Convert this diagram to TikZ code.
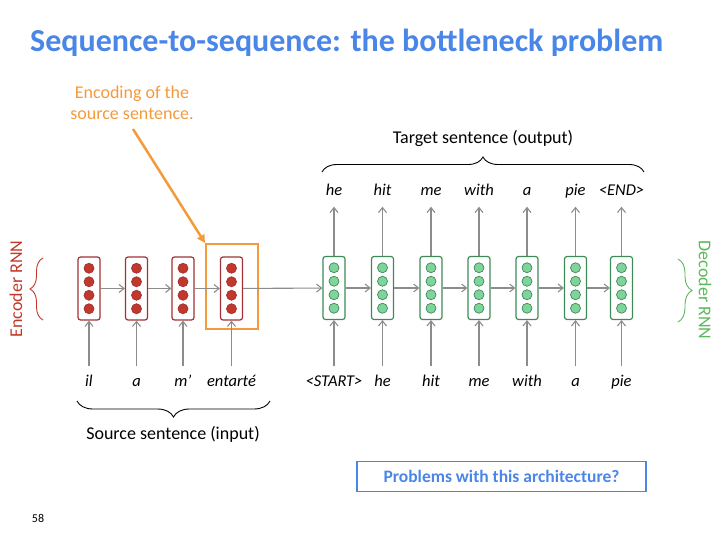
\documentclass[tikz,border=0pt]{standalone}
\usepackage{fontspec}
\setmainfont{Carlito}
\usetikzlibrary{arrows.meta,decorations.pathreplacing}
\definecolor{titleblue}{HTML}{4A86E8}
\definecolor{encred}{HTML}{A33035}
\definecolor{dotred}{HTML}{C0392B}
\definecolor{labred}{HTML}{C0392B}
\definecolor{decgreen}{HTML}{3D8B57}
\definecolor{dotgreen}{HTML}{7FD39B}
\definecolor{labgreen}{HTML}{5CB85C}
\definecolor{arrgray}{HTML}{8C8C8C}
\definecolor{orng}{HTML}{F39A3B}
\tikzset{
  enccell/.style={draw=encred, line width=1.2pt, rounded corners=2.5pt, minimum width=22pt, minimum height=63pt, inner sep=0pt},
  deccell/.style={draw=decgreen, line width=1.2pt, rounded corners=2.5pt, minimum width=22pt, minimum height=63pt, inner sep=0pt},
  reddot/.style={fill=dotred, draw=encred, line width=0.7pt},
  greendot/.style={fill=dotgreen, draw=decgreen, line width=0.7pt},
  arr/.style={draw=arrgray, line width=1.1pt, -{Straight Barb[length=5pt,width=8pt]}},
  word/.style={font=\fontsize{16.5}{18}\selectfont\itshape, inner sep=0pt, text height=10pt, text depth=3pt},
  bracelab/.style={font=\fontsize{18}{20}\selectfont, inner sep=0pt},
  brc/.style={decorate, line width=0.9pt}
}
\begin{document}
\begin{tikzpicture}[x=1pt,y=1pt]
\useasboundingbox (0,0) rectangle (720,-540);
% title
\node[font=\fontsize{32}{36}\selectfont\bfseries, text=titleblue, anchor=west, inner sep=0pt] (title) at (30,-43) {Sequence-to-sequence: the bottleneck problem};
% encoder cells
\foreach \n/\x in {1/89,2/136.5,3/183,4/231.5}{
  \node[enccell] (e\n) at (\x,-288.5) {};
  \foreach \dy in {-20.25,-6.75,6.75,20.25}{
    \path[reddot] (\x,-288.5-\dy) circle (5pt);
  }
}
% decoder cells
\foreach \n/\x in {1/334,2/382.5,3/431,4/479,5/527,6/575.5,7/621.5}{
  \node[deccell] (d\n) at (\x,-288) {};
  \foreach \dy in {-20.25,-6.75,6.75,20.25}{
    \path[greendot] (\x,-288-\dy) circle (5pt);
  }
}
% orange box
\node[draw=orng, line width=2pt, minimum width=52pt, minimum height=85pt, inner sep=0pt] (enc) at (232,-286.5) {};
% horizontal arrows
\draw[arr] (e1) -- (e2);
\draw[arr] (e2) -- (e3);
\draw[arr] (e3) -- (e4);
\draw[arr] (e4) -- (d1);
\draw[arr] (d1) -- (d2);
\draw[arr] (d2) -- (d3);
\draw[arr] (d3) -- (d4);
\draw[arr] (d4) -- (d5);
\draw[arr] (d5) -- (d6);
\draw[arr] (d6) -- (d7);
% source words
\foreach \n/\w in {1/il,2/a,3/m’,4/entarté}{
  \node[word] (s\n) at (e\n |- 0,-383) {\w};
  \draw[arr] ([yshift=10pt]s\n.north) -- (e\n.south);
}
% decoder input words
\foreach \n/\w in {1/<START>,2/he,3/hit,4/me,5/with,6/a,7/pie}{
  \node[word] (i\n) at (d\n |- 0,-383) {\w};
  \draw[arr] ([yshift=10pt]i\n.north) -- (d\n.south);
}
% decoder output words
\foreach \n/\w in {1/he,2/hit,3/me,4/with,5/a,6/pie,7/<END>}{
  \node[word] (o\n) at (d\n |- 0,-192) {\w};
  \draw[arr] (d\n.north) -- ([yshift=-8pt]o\n.south);
}
% braces
\coordinate (ebA) at (43,-320);
\coordinate (ebB) at (43,-258);
\draw[brc, draw=labred, decoration={brace, amplitude=13pt}] (ebA) -- (ebB);
\node[bracelab, text=labred, rotate=90] (enclab) at (16,-289) {Encoder RNN};
\coordinate (dbA) at (678,-259);
\coordinate (dbB) at (678,-322);
\draw[brc, draw=labgreen, decoration={brace, amplitude=14pt}] (dbA) -- (dbB);
\node[bracelab, text=labgreen, rotate=-90] (declab) at (705,-290) {Decoder RNN};
\coordinate (tbA) at (322,-172);
\coordinate (tbB) at (644,-172);
\draw[brc, draw=black, decoration={brace, amplitude=15pt}] (tbA) -- (tbB);
\node[bracelab] (tgt) at (483,-138) {Target sentence (output)};
\coordinate (sbA) at (270,-401);
\coordinate (sbB) at (77,-401);
\draw[brc, draw=black, decoration={brace, amplitude=16pt}] (sbA) -- (sbB);
\node[bracelab] (src) at (173,-434) {Source sentence (input)};
% orange annotation
\node[font=\fontsize{18}{20.5}\selectfont, text=orng, align=center, inner sep=0pt] (anno) at (132,-103) {Encoding of the\\source sentence.};
\coordinate (annoS) at (133,-129);
\draw[draw=orng, line width=2.5pt, -{Triangle[length=8pt,width=8pt]}] (annoS) -- (enc.north west);
% problems box
\node[draw=titleblue, line width=1.5pt, minimum width=289pt, minimum height=30pt, font=\fontsize{17.5}{20}\selectfont\bfseries, text=titleblue] (prob) at (501.5,-476.5) {Problems with this architecture?};
% page number
\node[font=\fontsize{12}{14}\selectfont, inner sep=0pt] (pnum) at (38,-518) {58};
\end{tikzpicture}
\end{document}
